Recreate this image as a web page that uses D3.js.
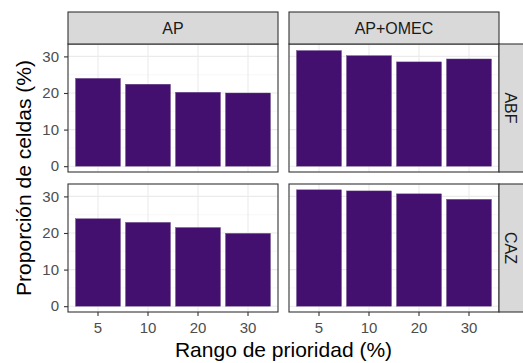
<!DOCTYPE html>
<html>
<head>
  <meta charset="utf-8">
  <title>Proporción de celdas por rango de prioridad</title>
  <style>
    body { margin: 0; background: #fff; }
    text { font-family: "Liberation Sans", Arial, sans-serif; }
  </style>
</head>
<body>
  <script src="https://cdn.jsdelivr.net/npm/d3@7"></script>
  <script>
    // data
    var rangos = ["5", "10", "20", "30"];
    var columnas = ["AP", "AP+OMEC"];
    var filas = ["ABF", "CAZ"];
    var abf_ap = [24.0, 22.4, 20.2, 20.0];
    var abf_omec = [31.6, 30.2, 28.5, 29.3];
    var caz_ap = [23.9, 22.9, 21.5, 19.9];
    var caz_omec = [31.8, 31.5, 30.7, 29.2];
    var yTicks = [0, 10, 20, 30];
    var yMinor = [5, 15, 25];

    var paneles = [
      {fila: 0, col: 0, values: abf_ap},
      {fila: 0, col: 1, values: abf_omec},
      {fila: 1, col: 0, values: caz_ap},
      {fila: 1, col: 1, values: caz_omec}
    ];

    // layout
    var W = 523, H = 363;
    var panelX = [68, 289], panelW = 210;
    var panelY = [44, 184], panelH = 128;
    var stripTop = 12, stripRight = 22;

    var svg = d3.select("body").append("svg")
        .attr("width", W)
        .attr("height", H);

    var maxV = d3.max([].concat(abf_ap, abf_omec, caz_ap, caz_omec));
    var yScale = d3.scaleLinear()
        .domain([-0.05 * maxV, maxV * 1.05])
        .range([panelH, 0]);

    // ggplot style: bar width 0.9, 0.6 expansion each side
    var xScale = d3.scaleBand()
        .domain(rangos)
        .range([0, panelW])
        .paddingInner(0.1)
        .paddingOuter(0.15);
    function xc(d) { return xScale(d) + xScale.bandwidth() / 2; }

    paneles.forEach(function (p) {
      var g = svg.append("g")
          .attr("transform", "translate(" + panelX[p.col] + "," + panelY[p.fila] + ")");

      g.append("rect")
          .attr("width", panelW).attr("height", panelH)
          .attr("fill", "#fff");

      // grid
      g.selectAll(".minor").data(yMinor).enter().append("line")
          .attr("x1", 0).attr("x2", panelW)
          .attr("y1", function (d) { return yScale(d); })
          .attr("y2", function (d) { return yScale(d); })
          .attr("stroke", "#f2f2f2").attr("stroke-width", 0.6);
      g.selectAll(".major").data(yTicks).enter().append("line")
          .attr("x1", 0).attr("x2", panelW)
          .attr("y1", function (d) { return yScale(d); })
          .attr("y2", function (d) { return yScale(d); })
          .attr("stroke", "#ebebeb").attr("stroke-width", 1.1);
      g.selectAll(".vgrid").data(rangos).enter().append("line")
          .attr("y1", 0).attr("y2", panelH)
          .attr("x1", xc).attr("x2", xc)
          .attr("stroke", "#ebebeb").attr("stroke-width", 1.1);

      // bars
      g.selectAll(".bar").data(p.values).enter().append("rect")
          .attr("x", function (d, i) { return xScale(rangos[i]); })
          .attr("width", xScale.bandwidth())
          .attr("y", function (d) { return yScale(d); })
          .attr("height", function (d) { return yScale(0) - yScale(d); })
          .attr("fill", "#44106f")
          .attr("stroke", "#6a4a8a").attr("stroke-width", 0.4);

      g.append("rect")
          .attr("width", panelW).attr("height", panelH)
          .attr("fill", "none").attr("stroke", "#333").attr("stroke-width", 1.1);

      // y axis on left column
      if (p.col === 0) {
        var ya = g.append("g").call(d3.axisLeft(yScale).tickValues(yTicks).tickSize(4).tickPadding(5));
        ya.select(".domain").remove();
        ya.selectAll("line").attr("stroke", "#333").attr("stroke-width", 1.1);
        ya.selectAll("text").attr("fill", "#4d4d4d").style("font-size", "15px");
      }
      // x axis on bottom row
      if (p.fila === 1) {
        var xa = g.append("g").attr("transform", "translate(0," + panelH + ")");
        xa.selectAll("line").data(rangos).enter().append("line")
            .attr("x1", xc).attr("x2", xc).attr("y1", 0).attr("y2", 4)
            .attr("stroke", "#333").attr("stroke-width", 1.1);
        xa.selectAll("text").data(rangos).enter().append("text")
            .attr("x", xc).attr("y", 21)
            .attr("text-anchor", "middle")
            .attr("fill", "#4d4d4d").style("font-size", "15px")
            .text(function (d) { return d; });
      }
    });

    // top strips
    columnas.forEach(function (c, i) {
      var g = svg.append("g").attr("transform", "translate(" + panelX[i] + "," + stripTop + ")");
      g.append("rect").attr("width", panelW).attr("height", panelY[0] - stripTop)
          .attr("fill", "#d9d9d9").attr("stroke", "#333").attr("stroke-width", 1.1);
      g.append("text").attr("x", panelW / 2).attr("y", (panelY[0] - stripTop) / 2 + 5.5)
          .attr("text-anchor", "middle").attr("fill", "#1a1a1a").style("font-size", "16px")
          .text(c);
    });

    // right strips
    filas.forEach(function (f, i) {
      var x0 = panelX[1] + panelW;
      var g = svg.append("g").attr("transform", "translate(" + x0 + "," + panelY[i] + ")");
      g.append("rect").attr("width", stripRight + 10).attr("height", panelH)
          .attr("fill", "#d9d9d9").attr("stroke", "#333").attr("stroke-width", 1.1);
      g.append("text")
          .attr("transform", "translate(" + (stripRight / 2 - 5.5) + "," + (panelH / 2) + ") rotate(90)")
          .attr("text-anchor", "middle").attr("fill", "#1a1a1a").style("font-size", "16px")
          .text(f);
    });

    // axis titles
    svg.append("text")
        .attr("x", (panelX[0] + panelX[1] + panelW) / 2)
        .attr("y", 357)
        .attr("text-anchor", "middle")
        .style("font-size", "21px")
        .text("Rango de prioridad (%)");

    svg.append("text")
        .attr("transform", "translate(31," + ((panelY[0] + panelY[1] + panelH) / 2) + ") rotate(-90)")
        .attr("text-anchor", "middle")
        .style("font-size", "21px")
        .text("Proporción de celdas (%)");
  </script>
</body>
</html>
